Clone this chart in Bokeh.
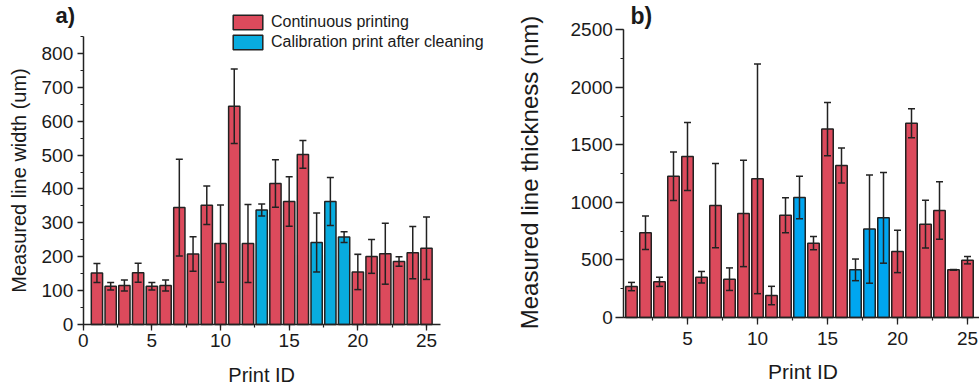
import math
from bokeh.plotting import figure
from bokeh.models import (ColumnDataSource, SingleIntervalTicker, Legend, LegendItem,
                          Label, Range1d)
from bokeh.layouts import row
from bokeh.embed import file_html
from bokeh.resources import INLINE

# ---------------- data ----------------
print_id = [1, 2, 3, 4, 5, 6, 7, 8, 9, 10, 11, 12, 13, 14, 15, 16, 17, 18, 19, 20, 21, 22, 23, 24, 25]
calibration_ids = [13, 17, 18, 19]
line_width_um = [152, 113, 115, 153, 113, 115, 345, 208, 352, 239, 644, 239, 338,
                 416, 363, 502, 242, 363, 258, 155, 201, 209, 186, 212, 225]
line_width_err = [28, 11, 16, 28, 11, 16, 143, 51, 57, 114, 110, 115, 18,
                  70, 73, 41, 87, 71, 16, 52, 50, 90, 14, 77, 92]
thickness_nm = [269, 736, 310, 1228, 1399, 350, 973, 333, 904, 1205, 191, 889, 1043,
                646, 1637, 1321, 414, 768, 866, 574, 1689, 811, 930, 414, 498]
thickness_err = [36, 145, 40, 211, 295, 50, 366, 98, 462, 998, 80, 152, 184,
                 58, 232, 152, 94, 470, 394, 184, 126, 208, 250, 3, 32]
legend_labels = ["Continuous printing", "Calibration print after cleaning"]
x_title = "Print ID"
y_title_a = "Measured line width (um)"
y_title_b = "Measured line thickness (nm)"

FONT = "Liberation Sans"
RED = "#dc4a5c"
BLUE_A = "#08acdf"
BLUE_B = "#00a6f0"
EDGE = "#222222"
TXT = "#1a1a1a"


def sources(vals, errs):
    cont = dict(x=[], top=[])
    cal = dict(x=[], top=[])
    for i, v in zip(print_id, vals):
        d = cal if i in calibration_ids else cont
        d["x"].append(i)
        d["top"].append(v)
    allerr = dict(x=list(print_id), lo=[v - e for v, e in zip(vals, errs)],
                  hi=[v + e for v, e in zip(vals, errs)])
    return ColumnDataSource(cont), ColumnDataSource(cal), ColumnDataSource(allerr)


def style_axes(p, tick_size, x_loc, y_loc, xb, yb, xint, yint,
               x_tick_out, y_tick_out, x_std, y_std):
    for ax in (p.xaxis[0], p.yaxis[0]):
        ax.axis_line_color = EDGE
        ax.axis_line_width = 1.5
        ax.major_tick_line_color = EDGE
        ax.minor_tick_line_color = EDGE
        ax.major_tick_line_width = 1.3
        ax.minor_tick_line_width = 1.2
        ax.major_tick_in = 0
        ax.minor_tick_out = 3
        ax.minor_tick_in = 0
        ax.major_label_text_font = FONT
        ax.major_label_text_font_size = f"{tick_size}px"
        ax.major_label_text_color = TXT
    p.xaxis[0].fixed_location = x_loc
    p.yaxis[0].fixed_location = y_loc
    p.xaxis[0].major_tick_out = x_tick_out
    p.yaxis[0].major_tick_out = y_tick_out
    p.xaxis[0].bounds = xb
    p.yaxis[0].bounds = yb
    p.xaxis[0].ticker = SingleIntervalTicker(interval=xint, num_minor_ticks=2)
    p.yaxis[0].ticker = SingleIntervalTicker(interval=yint, num_minor_ticks=2)
    p.xaxis[0].major_label_standoff = x_std
    p.yaxis[0].major_label_standoff = y_std
    p.xgrid.visible = False
    p.ygrid.visible = False
    p.outline_line_color = None


def draw(p, vals, errs, blue):
    s_cont, s_cal, s_err = sources(vals, errs)
    r1 = p.vbar(x="x", top="top", width=0.82, bottom=0, source=s_cont,
                fill_color=RED, line_color=EDGE, line_width=1.5)
    r2 = p.vbar(x="x", top="top", width=0.82, bottom=0, source=s_cal,
                fill_color=blue, line_color=EDGE, line_width=1.5)
    p.segment(x0="x", y0="lo", x1="x", y1="hi", source=s_err, line_color=EDGE, line_width=1.5)
    p.scatter(x="x", y="hi", source=s_err, marker="dash", size=7, line_color=EDGE, line_width=1.5)
    p.scatter(x="x", y="lo", source=s_err, marker="dash", size=7, line_color=EDGE, line_width=1.5)
    return r1, r2


def text(p, x, y, s, size, bold=False, angle=0.0, align="left", baseline="middle"):
    p.add_layout(Label(x=x, y=y, text=s, text_font=FONT, text_font_size=f"{size}px",
                       text_font_style="bold" if bold else "normal", angle=angle,
                       text_align=align, text_baseline=baseline, text_color=TXT))


# ---------------- panel a ----------------
p1 = figure(width=500, height=390, output_backend="svg", toolbar_location=None,
            x_range=Range1d(-6.023, 30.39), y_range=Range1d(-194.8, 956.3),
            min_border_left=0, min_border_right=0, min_border_top=0, min_border_bottom=0)
r1, r2 = draw(p1, line_width_um, line_width_err, BLUE_A)
style_axes(p1, 19, 0, 0, (0, 26), (0, 850), 5, 100, 6, 6, 3, 4)
leg = Legend(items=[LegendItem(label=legend_labels[0], renderers=[r1]),
                    LegendItem(label=legend_labels[1], renderers=[r2])],
             location=(229, 339), padding=0, margin=0, spacing=2,
             glyph_width=37, glyph_height=18, label_height=18, label_standoff=5,
             label_text_font=FONT, label_text_font_size="16px", label_text_color=TXT,
             border_line_color=None, background_fill_alpha=0)
p1.add_layout(leg)
text(p1, -2.02, 912, "a)", 22, bold=True)
text(p1, 13.0, -150.5, x_title, 20, align="center")
text(p1, -4.66, 425, y_title_a, 20, angle=math.pi / 2, align="center")

# ---------------- panel b ----------------
p2 = figure(width=479, height=390, output_backend="svg", toolbar_location=None,
            x_range=Range1d(-8.357, 25.857), y_range=Range1d(-634.3, 2754.6),
            min_border_left=0, min_border_right=0, min_border_top=0, min_border_bottom=0)
draw(p2, thickness_nm, thickness_err, BLUE_B)
style_axes(p2, 19, 0, 0.45, (0.45, 25.857), (0, 2500), 5, 500, 7, 8, 7, 3)
text(p2, 0.93, 2624, "b)", 23, bold=True)
text(p2, 13.25, -466.6, x_title, 21, align="center")
text(p2, -6.32, 1260, y_title_b, 24, angle=math.pi / 2, align="center")

layout = row(p1, p2)
open("out.html", "w").write(file_html(layout, INLINE))
